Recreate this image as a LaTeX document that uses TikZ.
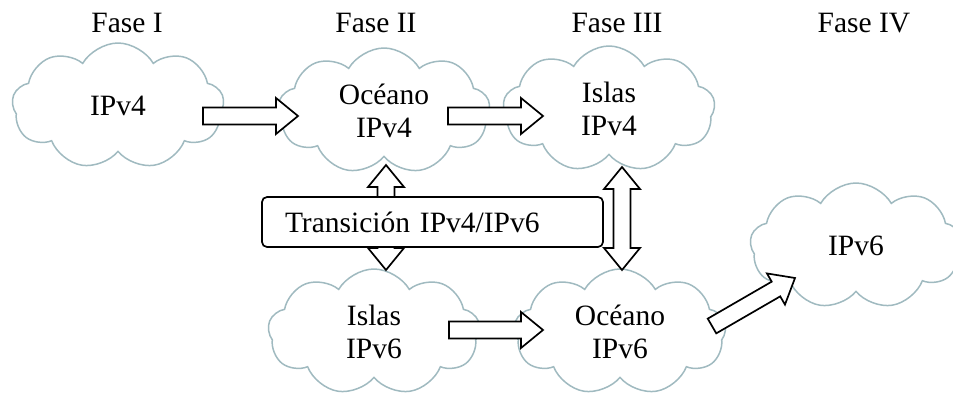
\documentclass[tikz,border=0pt]{standalone}
\usepackage{fontspec}
\setmainfont{Liberation Serif}
\usetikzlibrary{shapes.symbols,calc}

\definecolor{cloudline}{RGB}{160,186,192}

% fat outlined arrow from #1 (tail) to #2 (tip)
\newcommand{\blockarrow}[2]{%
  \coordinate (hb) at ($(#2)!22pt!(#1)$);
  \draw[fatarrow] ($(#1)!8.5pt!90:(#2)$) -- ($(hb)!8.5pt!-90:(#1)$) -- ($(hb)!18pt!-90:(#1)$) -- (#2)
    -- ($(hb)!18pt!90:(#1)$) -- ($(hb)!8.5pt!90:(#1)$) -- ($(#1)!8.5pt!-90:(#2)$) -- cycle;}
% fat outlined arrow with tips at both ends
\newcommand{\dblockarrow}[2]{%
  \coordinate (ha) at ($(#1)!22pt!(#2)$);
  \coordinate (hb) at ($(#2)!22pt!(#1)$);
  \draw[fatarrow] (#1) -- ($(ha)!18pt!90:(#2)$) -- ($(ha)!8.5pt!90:(#2)$) -- ($(hb)!8.5pt!-90:(#1)$)
    -- ($(hb)!18pt!-90:(#1)$) -- (#2) -- ($(hb)!18pt!90:(#1)$) -- ($(hb)!8.5pt!90:(#1)$)
    -- ($(ha)!8.5pt!-90:(#2)$) -- ($(ha)!18pt!-90:(#2)$) -- cycle;}

\begin{document}
\begin{tikzpicture}[x=1pt, y=-1pt, every node/.style={font=\fontsize{29.5}{33}\selectfont},
    cloudnode/.style={cloud, cloud puffs=9, cloud puff arc=120, cloud ignores aspect, draw=cloudline, line width=1.5pt, fill=white,
      minimum width=212pt, minimum height=126pt, inner sep=0pt, align=center},
    fatarrow/.style={draw=black, fill=white, line width=1.7pt, line join=miter},
    transbox/.style={draw=black, fill=white, line width=1.7pt, rounded corners=5pt, minimum height=50pt, text width=295pt, inner xsep=23pt, align=left}]
    \path[use as bounding box] (0,0) rectangle (953,394);
    % phase titles
    \node[anchor=base] (f1) at (127,32) {Fase I};
    \node[anchor=base] (f2) at (376,32) {Fase II};
    \node[anchor=base] (f3) at (617,32) {Fase III};
    \node[anchor=base] (f4) at (864,32) {Fase IV};
    % clouds
    \node[cloudnode] (v4) at (118,106) {IPv4};
    \node[cloudnode] (oc4) at (384,111) {Océano\\IPv4};
    \node[cloudnode] (is4) at (609,109) {Islas\\IPv4};
    \node[cloudnode] (is6) at (374,332) {Islas\\IPv6};
    \node[cloudnode] (oc6) at (620,332) {Océano\\IPv6};
    \node[cloudnode] (v6) at (856,246) {IPv6};
    % arrow ends
    \coordinate (a1s) at (203,116);
    \coordinate (a1e) at (298,116);
    \coordinate (a2s) at (448,116);
    \coordinate (a2e) at (543,116);
    \coordinate (a3s) at (449,330);
    \coordinate (a3e) at (543,330);
    \coordinate (a4s) at (712,326);
    \coordinate (a4e) at (795,278);
    \coordinate (d1s) at (386,165);
    \coordinate (d1e) at (386,270);
    \coordinate (d2s) at (622,167);
    \coordinate (d2e) at (622,270);
    \blockarrow{a1s}{a1e}
    \blockarrow{a2s}{a2e}
    \blockarrow{a3s}{a3e}
    \blockarrow{a4s}{a4e}
    \dblockarrow{d1s}{d1e}
    \dblockarrow{d2s}{d2e}
    \node[transbox] (tr) at (432.5,222) {Transición IPv4/IPv6};
\end{tikzpicture}
\end{document}
